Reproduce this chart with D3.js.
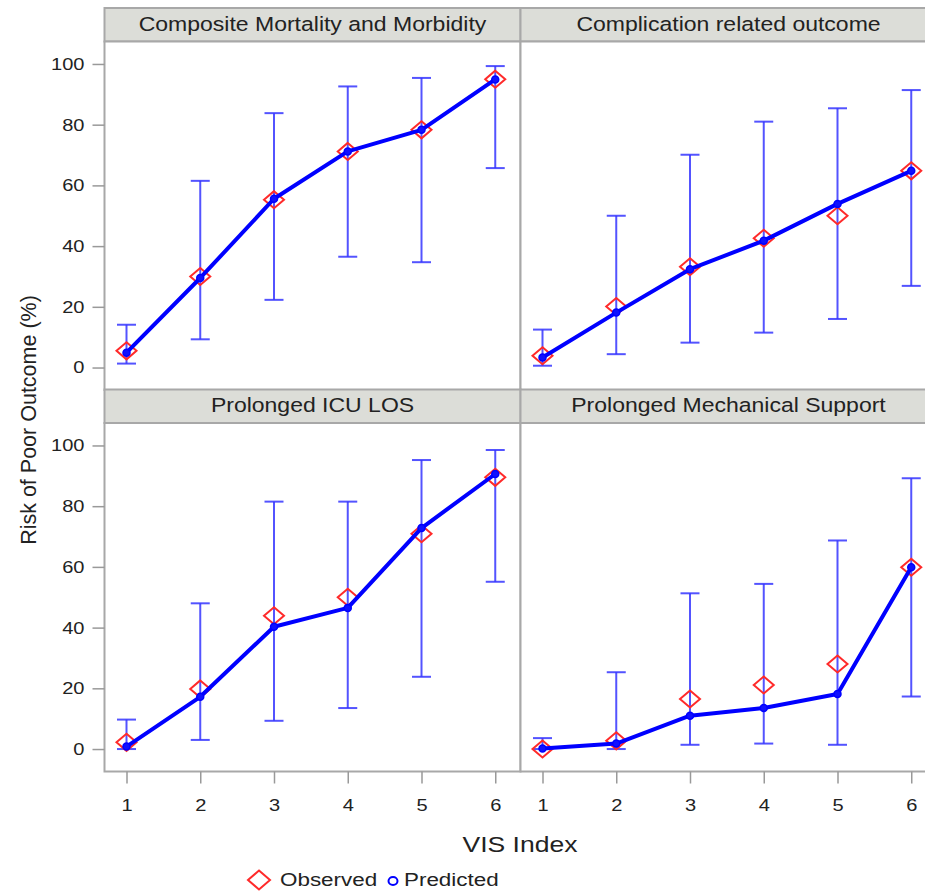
<!DOCTYPE html>
<html>
<head>
<meta charset="utf-8">
<script src="https://cdn.jsdelivr.net/npm/d3@7"></script>
<style>
  html, body { margin: 0; padding: 0; background: #fff; }
  svg { display: block; }
  text { font-family: "Liberation Sans", Arial, Helvetica, sans-serif; fill: #222; }
</style>
</head>
<body>
<svg id="chart" width="925" height="895"></svg>
<script>
// ---------- DATA ----------
const visIndex = [1, 2, 3, 4, 5, 6];
const xTickLabels = ["1", "2", "3", "4", "5", "6"];
const yTickValues = [0, 20, 40, 60, 80, 100];

const panelTitles = [
  "Composite Mortality and Morbidity",
  "Complication related outcome",
  "Prolonged ICU LOS",
  "Prolonged Mechanical Support"
];

// Composite Mortality and Morbidity
const compositeObserved  = [5.5, 30.0, 55.3, 71.2, 78.3, 95.0];
const compositePredicted = [4.9, 29.5, 55.6, 71.2, 78.3, 94.9];
const compositeLower     = [1.3, 9.3, 22.3, 36.5, 34.7, 65.7];
const compositeUpper     = [14.1, 61.5, 83.8, 92.6, 95.4, 99.3];

// Complication related outcome
const complicationObserved  = [3.9, 20.1, 33.2, 42.6, 50.0, 64.8];
const complicationPredicted = [3.3, 18.1, 32.4, 41.8, 53.9, 64.8];
const complicationLower     = [0.6, 4.4, 8.2, 11.5, 16.0, 26.9];
const complicationUpper     = [12.5, 50.0, 70.1, 81.0, 85.4, 91.4];

// Prolonged ICU LOS
const icuObserved  = [2.2, 19.8, 43.9, 50.0, 70.9, 89.5];
const icuPredicted = [0.8, 17.2, 40.3, 46.5, 72.8, 90.6];
const icuLower     = [0.0, 3.0, 9.3, 13.5, 23.8, 55.1];
const icuUpper     = [9.7, 48.0, 81.5, 81.5, 95.2, 98.5];

// Prolonged Mechanical Support
const mechObserved  = [0.0, 2.7, 16.5, 21.1, 28.0, 59.9];
const mechPredicted = [0.2, 1.8, 11.0, 13.5, 18.1, 59.9];
const mechLower     = [0.0, 0.0, 1.4, 1.8, 1.4, 17.3];
const mechUpper     = [3.6, 25.3, 51.3, 54.4, 68.7, 89.2];

const legendLabels = ["Observed", "Predicted"];

// ---------- BUILD ----------
function rows(obs, pred, lo, hi) {
  return visIndex.map((v, i) => ({ x: v, obs: obs[i], pred: pred[i], lo: lo[i], hi: hi[i] }));
}
const panels = [
  { title: panelTitles[0], row: 0, col: 0, data: rows(compositeObserved, compositePredicted, compositeLower, compositeUpper) },
  { title: panelTitles[1], row: 0, col: 1, data: rows(complicationObserved, complicationPredicted, complicationLower, complicationUpper) },
  { title: panelTitles[2], row: 1, col: 0, data: rows(icuObserved, icuPredicted, icuLower, icuUpper) },
  { title: panelTitles[3], row: 1, col: 1, data: rows(mechObserved, mechPredicted, mechLower, mechUpper) }
];

const svg = d3.select("#chart");
const SX = 1.18; // horizontal stretch of the original picture

const panelLeft = [104.5, 520.5];
const panelW = 416;
const headerTop = [8, 389.5];
const headerH = 33.5;
const plotH = 348.5;

const borderColor = "#a8a8a8";
const headerFill = "#dcddd8";
const blue = "#0000ff";
const red = "#ff2a2a";

const x = d3.scaleLinear().domain([1, 6]).range([22, 22 + 5 * 73.75]);
const y = d3.scaleLinear().domain([-7.4, 107.4]).range([plotH, 0]);

const line = d3.line().x(d => x(d.x)).y(d => y(d.pred));

const diamond = (w, h) => `M0,${-h / 2}L${w / 2},0L0,${h / 2}L${-w / 2},0Z`;

function stretchedText(parent, tx, ty, str, size, anchor) {
  return parent.append("g").attr("transform", `translate(${tx},${ty}) scale(${SX},1)`)
    .append("text").attr("text-anchor", anchor || "start").attr("dominant-baseline", "middle")
    .attr("font-size", size).text(str);
}

panels.forEach(p => {
  const px = panelLeft[p.col];
  const hy = headerTop[p.row];
  const py = hy + headerH;

  // header strip
  svg.append("rect")
    .attr("x", px).attr("y", hy).attr("width", panelW).attr("height", headerH)
    .attr("fill", headerFill).attr("stroke", borderColor).attr("stroke-width", 2);
  stretchedText(svg, px + panelW / 2, hy + headerH / 2 + 1, p.title, 19.5, "middle");

  const g = svg.append("g").attr("transform", `translate(${px},${py})`);

  g.append("rect")
    .attr("width", panelW).attr("height", plotH)
    .attr("fill", "#fff").attr("stroke", borderColor).attr("stroke-width", 2);

  // y axis (left column only)
  if (p.col === 0) {
    const ya = g.append("g").call(d3.axisLeft(y).tickValues(yTickValues).tickSize(12).tickPadding(5));
    ya.select(".domain").remove();
    ya.selectAll(".tick line").attr("stroke", "#999").attr("stroke-width", 1.5);
    ya.selectAll(".tick text").attr("font-size", 17).attr("fill", "#222")
      .attr("transform", `scale(${SX},1)`)
      .style("font-family", "'Liberation Sans', Arial, sans-serif");
  }
  // x axis (bottom row only)
  if (p.row === 1) {
    const xa = g.append("g").attr("transform", `translate(0,${plotH})`)
      .call(d3.axisBottom(x).tickValues(visIndex).tickFormat((d, i) => xTickLabels[i]).tickSize(12).tickPadding(15));
    xa.select(".domain").remove();
    xa.selectAll(".tick line").attr("stroke", "#999").attr("stroke-width", 1.5);
    xa.selectAll(".tick text").attr("font-size", 17).attr("fill", "#222")
      .attr("transform", `scale(${SX},1)`)
      .style("font-family", "'Liberation Sans', Arial, sans-serif");
  }

  // error bars
  const eb = g.append("g").attr("stroke", "#3535ff").attr("stroke-width", 2).attr("stroke-opacity", 0.85);
  p.data.forEach(d => {
    eb.append("line").attr("x1", x(d.x)).attr("x2", x(d.x)).attr("y1", y(d.lo)).attr("y2", y(d.hi));
    eb.append("line").attr("x1", x(d.x) - 9.5).attr("x2", x(d.x) + 9.5).attr("y1", y(d.lo)).attr("y2", y(d.lo));
    eb.append("line").attr("x1", x(d.x) - 9.5).attr("x2", x(d.x) + 9.5).attr("y1", y(d.hi)).attr("y2", y(d.hi));
  });

  // observed diamonds
  g.append("g").selectAll("path").data(p.data).join("path")
    .attr("d", diamond(20, 17))
    .attr("transform", d => `translate(${x(d.x)},${y(d.obs)})`)
    .attr("fill", "none").attr("stroke", red).attr("stroke-width", 2);

  // predicted line
  g.append("path").datum(p.data).attr("d", line)
    .attr("fill", "none").attr("stroke", blue).attr("stroke-width", 4).attr("stroke-linejoin", "round");

  // predicted markers
  g.append("g").selectAll("circle").data(p.data).join("circle")
    .attr("cx", d => x(d.x)).attr("cy", d => y(d.pred)).attr("r", 3.5)
    .attr("fill", "#1010ff").attr("stroke", blue).attr("stroke-width", 1.5);
});

// Axis titles
svg.append("text")
  .attr("transform", "translate(30,420) rotate(-90)")
  .attr("text-anchor", "middle").attr("dominant-baseline", "middle")
  .attr("font-size", 21.5)
  .text("Risk of Poor Outcome (%)");

stretchedText(svg, 520, 846, "VIS Index", 22.5, "middle");

// Legend
const lg = svg.append("g").attr("transform", "translate(0,880)");
lg.append("path").attr("d", diamond(22, 19)).attr("transform", "translate(259,0)")
  .attr("fill", "none").attr("stroke", red).attr("stroke-width", 2);
stretchedText(lg, 280, 1, legendLabels[0], 19, "start");
lg.append("ellipse").attr("cx", 393).attr("cy", 1).attr("rx", 4.5).attr("ry", 4)
  .attr("fill", "none").attr("stroke", blue).attr("stroke-width", 2);
stretchedText(lg, 404, 1, legendLabels[1], 19, "start");
</script>
</body>
</html>
